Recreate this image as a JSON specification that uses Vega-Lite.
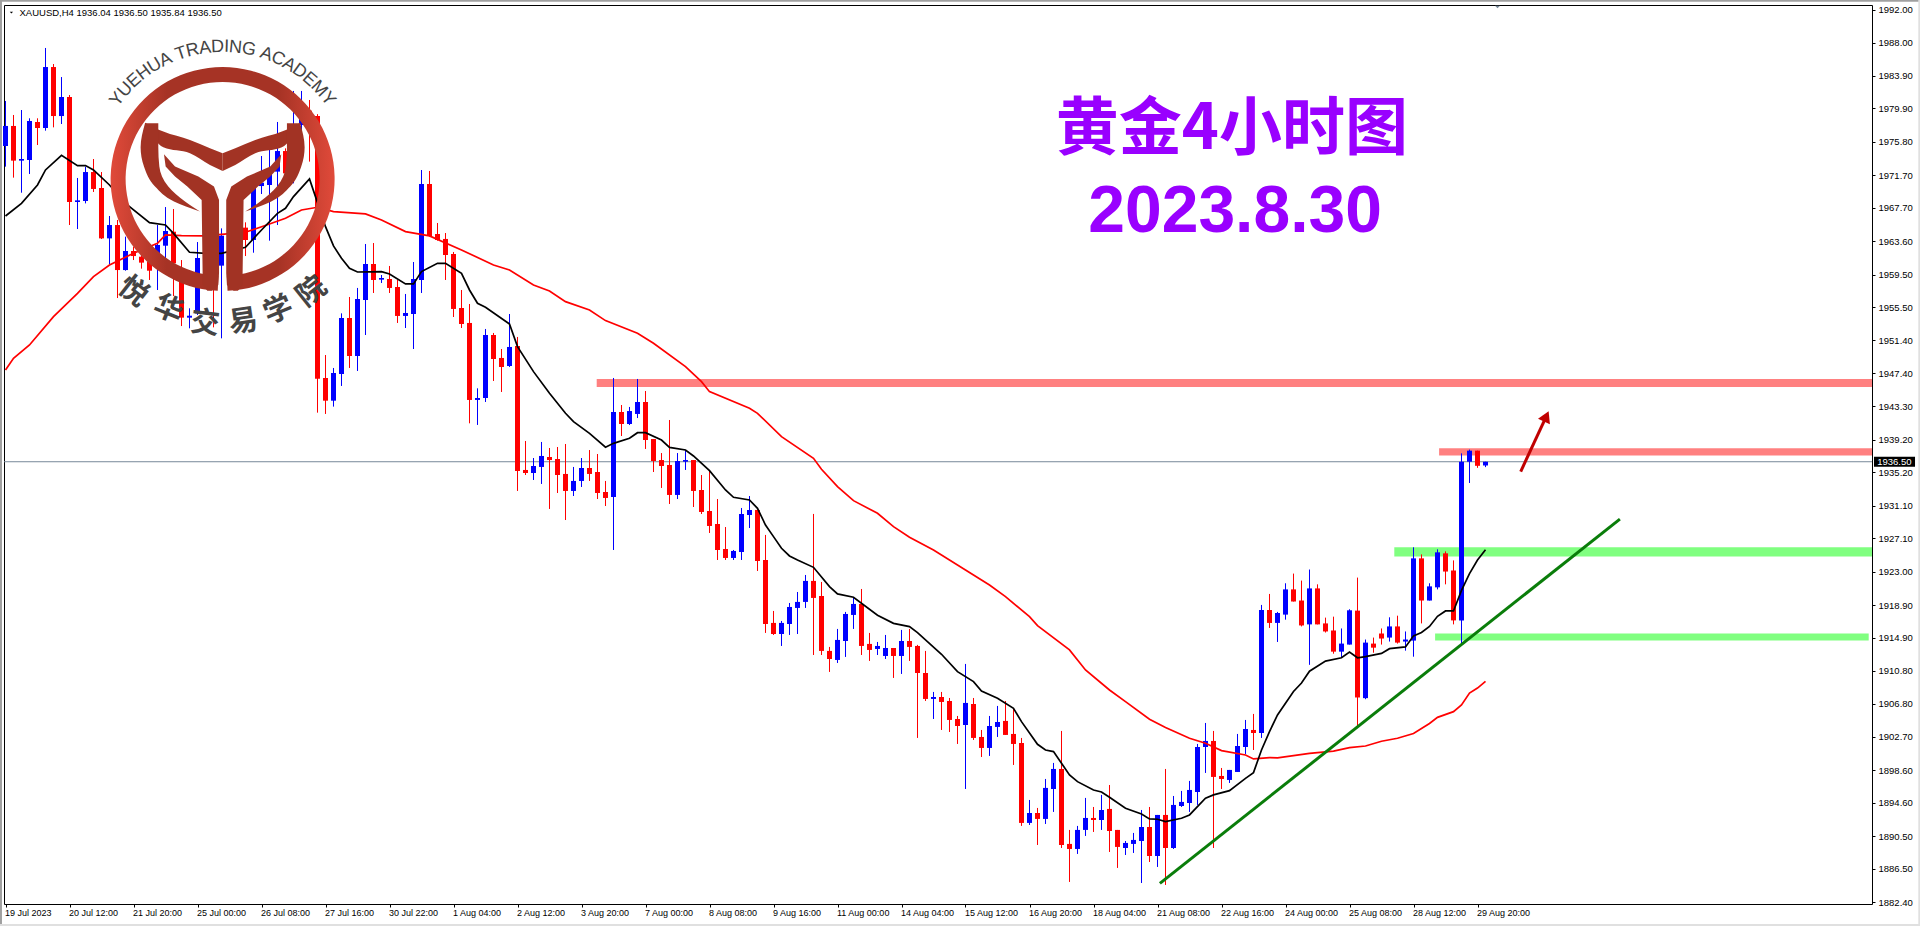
{
"$schema":"https://vega.github.io/schema/vega-lite/v6.json",
"width":1868,"height":899,"autosize":"none",
"padding":{"left":4,"top":5,"right":48,"bottom":23},
"background":"#ffffff",
"config":{"view":{"stroke":"#000000","strokeWidth":1},"axis":{"labelOverlap":false,"labelSeparation":0}},
"datasets":{
"candles":[
{"bar":0,"open":1975.29,"high":1980.82,"low":1972.75,"close":1977.75},
{"bar":1,"open":1977.75,"high":1979.10,"low":1971.40,"close":1973.49},
{"bar":2,"open":1973.49,"high":1979.71,"low":1969.55,"close":1973.69},
{"bar":3,"open":1973.57,"high":1978.69,"low":1971.85,"close":1978.36},
{"bar":4,"open":1978.24,"high":1978.69,"low":1975.41,"close":1977.50},
{"bar":5,"open":1977.50,"high":1987.33,"low":1977.17,"close":1984.99},
{"bar":6,"open":1984.99,"high":1985.36,"low":1977.58,"close":1978.97},
{"bar":7,"open":1978.97,"high":1983.76,"low":1977.99,"close":1981.31},
{"bar":8,"open":1981.31,"high":1981.55,"low":1965.58,"close":1968.41},
{"bar":9,"open":1968.41,"high":1971.36,"low":1965.09,"close":1968.61},
{"bar":10,"open":1968.53,"high":1972.75,"low":1968.24,"close":1972.09},
{"bar":11,"open":1972.09,"high":1973.69,"low":1969.64,"close":1970.01},
{"bar":12,"open":1970.13,"high":1972.09,"low":1963.86,"close":1963.94},
{"bar":13,"open":1963.94,"high":1966.69,"low":1960.79,"close":1965.58},
{"bar":14,"open":1965.58,"high":1966.20,"low":1956.61,"close":1960.05},
{"bar":15,"open":1960.05,"high":1964.15,"low":1959.97,"close":1962.39},
{"bar":16,"open":1962.39,"high":1962.92,"low":1961.28,"close":1961.77},
{"bar":17,"open":1961.69,"high":1962.92,"low":1960.22,"close":1960.96},
{"bar":18,"open":1961.08,"high":1961.90,"low":1958.83,"close":1959.97},
{"bar":19,"open":1961.08,"high":1965.58,"low":1957.60,"close":1963.13},
{"bar":20,"open":1963.04,"high":1967.79,"low":1959.85,"close":1964.85},
{"bar":21,"open":1964.76,"high":1967.55,"low":1956.86,"close":1960.87},
{"bar":22,"open":1960.05,"high":1961.28,"low":1953.17,"close":1954.20},
{"bar":23,"open":1954.20,"high":1955.35,"low":1952.89,"close":1954.44},
{"bar":24,"open":1954.73,"high":1963.49,"low":1954.53,"close":1961.53},
{"bar":25,"open":1961.53,"high":1962.51,"low":1960.87,"close":1962.10},
{"bar":26,"open":1962.10,"high":1963.74,"low":1953.01,"close":1960.59},
{"bar":27,"open":1960.59,"high":1965.17,"low":1951.66,"close":1964.27},
{"bar":28,"open":1964.27,"high":1965.00,"low":1962.50,"close":1963.00},
{"bar":29,"open":1963.00,"high":1965.80,"low":1962.80,"close":1965.26},
{"bar":30,"open":1965.26,"high":1965.91,"low":1961.77,"close":1963.74},
{"bar":31,"open":1963.74,"high":1971.00,"low":1962.18,"close":1970.50},
{"bar":32,"open":1970.37,"high":1974.06,"low":1969.39,"close":1970.78},
{"bar":33,"open":1970.50,"high":1974.88,"low":1963.66,"close":1972.14},
{"bar":34,"open":1972.14,"high":1978.24,"low":1965.58,"close":1974.67},
{"bar":35,"open":1974.67,"high":1975.00,"low":1971.73,"close":1971.93},
{"bar":36,"open":1974.68,"high":1982.05,"low":1970.70,"close":1977.87},
{"bar":37,"open":1977.87,"high":1982.05,"low":1976.85,"close":1979.63},
{"bar":38,"open":1979.63,"high":1980.94,"low":1973.37,"close":1978.98},
{"bar":39,"open":1978.98,"high":1979.20,"low":1942.53,"close":1946.71},
{"bar":40,"open":1946.79,"high":1949.61,"low":1942.37,"close":1944.00},
{"bar":41,"open":1944.00,"high":1948.02,"low":1943.27,"close":1947.40},
{"bar":42,"open":1947.28,"high":1954.73,"low":1945.81,"close":1954.16},
{"bar":43,"open":1954.16,"high":1956.74,"low":1948.02,"close":1949.49},
{"bar":44,"open":1949.49,"high":1957.85,"low":1947.65,"close":1956.49},
{"bar":45,"open":1956.37,"high":1963.25,"low":1952.07,"close":1960.79},
{"bar":46,"open":1960.79,"high":1963.37,"low":1957.23,"close":1958.83},
{"bar":47,"open":1958.87,"high":1959.44,"low":1958.46,"close":1959.07},
{"bar":48,"open":1958.95,"high":1960.55,"low":1957.23,"close":1957.85},
{"bar":49,"open":1957.97,"high":1958.83,"low":1953.55,"close":1954.41},
{"bar":50,"open":1954.41,"high":1957.11,"low":1952.93,"close":1954.77},
{"bar":51,"open":1954.65,"high":1961.04,"low":1950.35,"close":1958.95},
{"bar":52,"open":1958.83,"high":1972.34,"low":1957.23,"close":1970.62},
{"bar":53,"open":1970.62,"high":1972.22,"low":1964.15,"close":1964.23},
{"bar":54,"open":1964.48,"high":1965.83,"low":1963.66,"close":1963.74},
{"bar":55,"open":1963.87,"high":1964.60,"low":1958.83,"close":1961.90},
{"bar":56,"open":1962.02,"high":1962.27,"low":1954.28,"close":1955.27},
{"bar":57,"open":1955.39,"high":1957.60,"low":1952.93,"close":1953.42},
{"bar":58,"open":1953.55,"high":1955.88,"low":1941.22,"close":1944.09},
{"bar":59,"open":1944.09,"high":1945.52,"low":1941.02,"close":1944.33},
{"bar":60,"open":1944.33,"high":1952.81,"low":1943.84,"close":1952.07},
{"bar":61,"open":1952.07,"high":1952.32,"low":1946.42,"close":1949.12},
{"bar":62,"open":1949.25,"high":1950.35,"low":1945.07,"close":1948.14},
{"bar":63,"open":1948.26,"high":1954.65,"low":1948.14,"close":1950.60},
{"bar":64,"open":1950.72,"high":1951.83,"low":1932.91,"close":1935.36},
{"bar":65,"open":1935.49,"high":1939.05,"low":1934.87,"close":1935.12},
{"bar":66,"open":1935.12,"high":1936.96,"low":1934.26,"close":1935.98},
{"bar":67,"open":1935.86,"high":1938.93,"low":1933.77,"close":1937.21},
{"bar":68,"open":1937.08,"high":1938.19,"low":1930.70,"close":1936.71},
{"bar":69,"open":1936.84,"high":1938.31,"low":1932.66,"close":1934.87},
{"bar":70,"open":1935.00,"high":1938.68,"low":1929.34,"close":1932.91},
{"bar":71,"open":1932.91,"high":1935.86,"low":1932.29,"close":1934.14},
{"bar":72,"open":1934.14,"high":1936.96,"low":1933.40,"close":1935.73},
{"bar":73,"open":1935.73,"high":1937.94,"low":1934.14,"close":1935.00},
{"bar":74,"open":1935.24,"high":1937.45,"low":1931.92,"close":1932.66},
{"bar":75,"open":1932.78,"high":1934.14,"low":1931.06,"close":1932.05},
{"bar":76,"open":1932.17,"high":1946.79,"low":1925.66,"close":1942.61},
{"bar":77,"open":1942.61,"high":1943.47,"low":1939.66,"close":1941.14},
{"bar":78,"open":1941.14,"high":1943.23,"low":1941.01,"close":1942.73},
{"bar":79,"open":1942.37,"high":1946.67,"low":1941.87,"close":1943.84},
{"bar":80,"open":1943.84,"high":1945.19,"low":1938.07,"close":1939.17},
{"bar":81,"open":1939.29,"high":1939.29,"low":1935.24,"close":1936.59},
{"bar":82,"open":1936.71,"high":1937.57,"low":1933.28,"close":1935.98},
{"bar":83,"open":1936.10,"high":1941.63,"low":1931.31,"close":1932.42},
{"bar":84,"open":1932.42,"high":1937.57,"low":1931.92,"close":1936.59},
{"bar":85,"open":1936.51,"high":1937.82,"low":1935.49,"close":1936.71},
{"bar":86,"open":1936.71,"high":1936.71,"low":1930.94,"close":1932.91},
{"bar":87,"open":1933.03,"high":1934.87,"low":1930.08,"close":1930.33},
{"bar":88,"open":1930.45,"high":1935.36,"low":1927.75,"close":1928.61},
{"bar":89,"open":1928.85,"high":1931.92,"low":1924.43,"close":1925.66},
{"bar":90,"open":1925.78,"high":1928.48,"low":1924.43,"close":1924.68},
{"bar":91,"open":1924.68,"high":1925.66,"low":1924.43,"close":1925.54},
{"bar":92,"open":1925.41,"high":1930.82,"low":1924.43,"close":1930.08},
{"bar":93,"open":1929.96,"high":1932.29,"low":1928.36,"close":1930.57},
{"bar":94,"open":1930.58,"high":1930.58,"low":1923.08,"close":1924.31},
{"bar":95,"open":1924.43,"high":1927.51,"low":1915.47,"close":1916.57},
{"bar":96,"open":1916.70,"high":1918.17,"low":1915.22,"close":1915.34},
{"bar":97,"open":1915.34,"high":1916.94,"low":1913.87,"close":1916.70},
{"bar":98,"open":1916.57,"high":1919.15,"low":1915.22,"close":1918.66},
{"bar":99,"open":1918.54,"high":1920.50,"low":1915.34,"close":1919.28},
{"bar":100,"open":1919.28,"high":1922.59,"low":1918.54,"close":1921.86},
{"bar":101,"open":1921.86,"high":1930.09,"low":1912.76,"close":1919.77},
{"bar":102,"open":1920.01,"high":1921.73,"low":1912.76,"close":1913.26},
{"bar":103,"open":1913.26,"high":1913.75,"low":1910.68,"close":1912.27},
{"bar":104,"open":1912.15,"high":1915.96,"low":1911.78,"close":1914.61},
{"bar":105,"open":1914.48,"high":1918.05,"low":1912.52,"close":1917.80},
{"bar":106,"open":1917.68,"high":1919.77,"low":1915.96,"close":1919.03},
{"bar":107,"open":1919.03,"high":1920.87,"low":1912.76,"close":1913.87},
{"bar":108,"open":1914.12,"high":1915.47,"low":1912.03,"close":1913.38},
{"bar":109,"open":1913.50,"high":1914.36,"low":1912.76,"close":1913.87},
{"bar":110,"open":1912.64,"high":1915.22,"low":1912.27,"close":1913.62},
{"bar":111,"open":1913.62,"high":1913.62,"low":1909.94,"close":1912.64},
{"bar":112,"open":1912.64,"high":1915.84,"low":1910.43,"close":1914.48},
{"bar":113,"open":1914.48,"high":1915.96,"low":1912.03,"close":1913.75},
{"bar":114,"open":1913.87,"high":1914.00,"low":1902.57,"close":1910.55},
{"bar":115,"open":1910.55,"high":1913.26,"low":1907.11,"close":1907.36},
{"bar":116,"open":1907.36,"high":1908.22,"low":1904.90,"close":1907.60},
{"bar":117,"open":1907.60,"high":1908.22,"low":1903.55,"close":1906.99},
{"bar":118,"open":1907.11,"high":1907.48,"low":1903.30,"close":1904.78},
{"bar":119,"open":1904.90,"high":1905.27,"low":1901.83,"close":1904.04},
{"bar":120,"open":1904.16,"high":1911.66,"low":1896.30,"close":1906.87},
{"bar":121,"open":1906.74,"high":1907.48,"low":1902.32,"close":1902.57},
{"bar":122,"open":1902.69,"high":1903.55,"low":1900.23,"close":1901.34},
{"bar":123,"open":1901.34,"high":1905.27,"low":1900.36,"close":1904.04},
{"bar":124,"open":1903.92,"high":1906.50,"low":1902.69,"close":1904.53},
{"bar":125,"open":1904.66,"high":1907.11,"low":1902.94,"close":1902.94},
{"bar":126,"open":1903.06,"high":1906.25,"low":1899.25,"close":1901.83},
{"bar":127,"open":1901.95,"high":1902.57,"low":1891.76,"close":1892.13},
{"bar":128,"open":1892.13,"high":1894.95,"low":1891.88,"close":1893.35},
{"bar":129,"open":1893.35,"high":1893.97,"low":1889.42,"close":1892.62},
{"bar":130,"open":1892.62,"high":1897.53,"low":1892.00,"close":1896.43},
{"bar":131,"open":1896.30,"high":1899.50,"low":1893.48,"close":1898.76},
{"bar":132,"open":1898.76,"high":1903.43,"low":1889.05,"close":1889.42},
{"bar":133,"open":1889.55,"high":1891.27,"low":1884.88,"close":1888.93},
{"bar":134,"open":1888.93,"high":1891.76,"low":1888.32,"close":1891.27},
{"bar":135,"open":1891.27,"high":1895.20,"low":1890.53,"close":1892.74},
{"bar":136,"open":1892.74,"high":1894.09,"low":1891.02,"close":1892.49},
{"bar":137,"open":1892.49,"high":1895.57,"low":1891.27,"close":1893.72},
{"bar":138,"open":1893.85,"high":1896.79,"low":1888.56,"close":1891.14},
{"bar":139,"open":1891.27,"high":1891.27,"low":1886.60,"close":1889.18},
{"bar":140,"open":1889.05,"high":1889.91,"low":1888.19,"close":1889.67},
{"bar":141,"open":1889.55,"high":1890.90,"low":1888.44,"close":1890.04},
{"bar":142,"open":1889.91,"high":1893.72,"low":1884.75,"close":1891.63},
{"bar":143,"open":1891.63,"high":1894.09,"low":1887.33,"close":1888.07},
{"bar":144,"open":1888.07,"high":1893.11,"low":1886.72,"close":1893.11},
{"bar":145,"open":1893.11,"high":1898.76,"low":1884.51,"close":1889.05},
{"bar":146,"open":1889.05,"high":1895.44,"low":1888.93,"close":1894.34},
{"bar":147,"open":1894.21,"high":1896.06,"low":1894.09,"close":1894.71},
{"bar":148,"open":1894.58,"high":1897.29,"low":1893.48,"close":1896.18},
{"bar":149,"open":1895.93,"high":1901.83,"low":1894.34,"close":1901.46},
{"bar":150,"open":1901.46,"high":1904.41,"low":1898.27,"close":1902.20},
{"bar":151,"open":1902.20,"high":1903.43,"low":1889.05,"close":1897.78},
{"bar":152,"open":1897.90,"high":1898.88,"low":1896.30,"close":1897.53},
{"bar":153,"open":1897.41,"high":1898.64,"low":1897.04,"close":1898.64},
{"bar":154,"open":1898.39,"high":1903.06,"low":1898.39,"close":1901.58},
{"bar":155,"open":1901.46,"high":1904.78,"low":1900.60,"close":1903.67},
{"bar":156,"open":1903.55,"high":1905.52,"low":1901.09,"close":1903.18},
{"bar":157,"open":1903.18,"high":1918.91,"low":1902.57,"close":1918.29},
{"bar":158,"open":1918.29,"high":1920.26,"low":1916.08,"close":1916.70},
{"bar":159,"open":1916.70,"high":1918.05,"low":1914.36,"close":1917.92},
{"bar":160,"open":1917.72,"high":1921.57,"low":1917.10,"close":1920.82},
{"bar":161,"open":1920.82,"high":1922.76,"low":1919.33,"close":1919.33},
{"bar":162,"open":1919.45,"high":1921.90,"low":1916.27,"close":1916.39},
{"bar":163,"open":1916.52,"high":1923.26,"low":1911.55,"close":1920.94},
{"bar":164,"open":1920.94,"high":1921.44,"low":1916.52,"close":1916.52},
{"bar":165,"open":1916.64,"high":1917.35,"low":1915.52,"close":1915.65},
{"bar":166,"open":1915.77,"high":1917.47,"low":1912.92,"close":1913.17},
{"bar":167,"open":1913.17,"high":1916.02,"low":1912.42,"close":1914.16},
{"bar":168,"open":1914.04,"high":1918.38,"low":1914.04,"close":1918.25},
{"bar":169,"open":1918.21,"high":1922.27,"low":1903.94,"close":1907.54},
{"bar":170,"open":1907.46,"high":1914.66,"low":1907.33,"close":1914.28},
{"bar":171,"open":1914.16,"high":1914.90,"low":1913.04,"close":1913.66},
{"bar":172,"open":1915.40,"high":1916.02,"low":1914.04,"close":1914.78},
{"bar":173,"open":1914.90,"high":1917.39,"low":1914.41,"close":1916.27},
{"bar":174,"open":1916.27,"high":1917.59,"low":1914.16,"close":1914.28},
{"bar":175,"open":1914.41,"high":1915.65,"low":1913.29,"close":1914.66},
{"bar":176,"open":1914.53,"high":1925.99,"low":1912.55,"close":1924.63},
{"bar":177,"open":1924.63,"high":1925.12,"low":1916.64,"close":1919.45},
{"bar":178,"open":1919.45,"high":1921.57,"low":1919.45,"close":1921.19},
{"bar":179,"open":1921.07,"high":1925.74,"low":1920.82,"close":1925.37},
{"bar":180,"open":1925.25,"high":1925.49,"low":1921.44,"close":1923.01},
{"bar":181,"open":1923.14,"high":1924.38,"low":1916.52,"close":1917.01},
{"bar":182,"open":1917.01,"high":1937.53,"low":1914.16,"close":1936.50},
{"bar":183,"open":1936.50,"high":1937.99,"low":1933.89,"close":1937.86},
{"bar":184,"open":1937.86,"high":1937.86,"low":1935.75,"close":1936.00},
{"bar":185,"open":1936.04,"high":1936.50,"low":1935.84,"close":1936.50}
],
"ma_fast":[
{"bar":0,"price":1966.69},{"bar":2,"price":1968.25},{"bar":4,"price":1970.50},{"bar":5,"price":1972.35},{"bar":7,"price":1974.15},{"bar":9,"price":1972.88},{"bar":10,"price":1972.88},{"bar":11,"price":1972.35},{"bar":13,"price":1970.50},{"bar":15,"price":1968.25},{"bar":18,"price":1965.88},{"bar":20,"price":1965.59},{"bar":21,"price":1964.56},{"bar":23,"price":1962.23},{"bar":25,"price":1962.11},{"bar":27,"price":1962.11},{"bar":30,"price":1962.85},{"bar":32,"price":1964.97},{"bar":34,"price":1967.02},{"bar":35,"price":1967.64},{"bar":36,"price":1969.07},{"bar":38,"price":1971.24},{"bar":39,"price":1968.33},{"bar":40,"price":1965.38},{"bar":41,"price":1963.01},{"bar":42,"price":1961.49},{"bar":43,"price":1960.27},{"bar":44,"price":1959.81},{"bar":47,"price":1959.86},{"bar":48,"price":1959.57},{"bar":50,"price":1958.34},{"bar":51,"price":1958.34},{"bar":52,"price":1959.86},{"bar":54,"price":1960.88},{"bar":55,"price":1960.88},{"bar":57,"price":1959.65},{"bar":58,"price":1957.60},{"bar":59,"price":1955.97},{"bar":60,"price":1955.47},{"bar":63,"price":1953.43},{"bar":64,"price":1950.64},{"bar":66,"price":1947.57},{"bar":68,"price":1944.91},{"bar":70,"price":1942.45},{"bar":71,"price":1941.43},{"bar":73,"price":1939.99},{"bar":75,"price":1938.28},{"bar":76,"price":1938.76},{"bar":78,"price":1939.38},{"bar":79,"price":1940.07},{"bar":80,"price":1940.07},{"bar":82,"price":1939.17},{"bar":83,"price":1938.27},{"bar":85,"price":1937.94},{"bar":86,"price":1937.21},{"bar":88,"price":1935.40},{"bar":90,"price":1933.03},{"bar":91,"price":1932.13},{"bar":93,"price":1931.80},{"bar":94,"price":1930.78},{"bar":95,"price":1928.73},{"bar":96,"price":1927.30},{"bar":97,"price":1925.87},{"bar":98,"price":1924.93},{"bar":99,"price":1924.43},{"bar":101,"price":1923.53},{"bar":103,"price":1921.16},{"bar":104,"price":1920.26},{"bar":106,"price":1919.85},{"bar":109,"price":1917.64},{"bar":111,"price":1916.65},{"bar":113,"price":1916.24},{"bar":114,"price":1915.51},{"bar":117,"price":1912.85},{"bar":119,"price":1910.72},{"bar":121,"price":1909.49},{"bar":122,"price":1908.34},{"bar":124,"price":1907.44},{"bar":126,"price":1906.21},{"bar":127,"price":1904.57},{"bar":129,"price":1901.79},{"bar":130,"price":1901.09},{"bar":131,"price":1900.89},{"bar":132,"price":1899.46},{"bar":133,"price":1898.02},{"bar":134,"price":1897.20},{"bar":136,"price":1896.18},{"bar":137,"price":1895.93},{"bar":138,"price":1895.28},{"bar":140,"price":1893.93},{"bar":142,"price":1893.23},{"bar":143,"price":1892.62},{"bar":144,"price":1892.58},{"bar":145,"price":1892.29},{"bar":147,"price":1892.70},{"bar":148,"price":1893.11},{"bar":150,"price":1895.16},{"bar":151,"price":1895.57},{"bar":153,"price":1896.10},{"bar":155,"price":1897.61},{"bar":156,"price":1898.31},{"bar":157,"price":1901.09},{"bar":158,"price":1903.35},{"bar":159,"price":1905.39},{"bar":161,"price":1908.28},{"bar":162,"price":1909.32},{"bar":163,"price":1910.77},{"bar":165,"price":1912.01},{"bar":167,"price":1912.42},{"bar":168,"price":1913.12},{"bar":169,"price":1912.42},{"bar":170,"price":1912.55},{"bar":172,"price":1912.96},{"bar":173,"price":1913.54},{"bar":175,"price":1913.75},{"bar":176,"price":1915.11},{"bar":177,"price":1915.52},{"bar":178,"price":1916.27},{"bar":179,"price":1917.51},{"bar":180,"price":1918.17},{"bar":181,"price":1918.17},{"bar":182,"price":1920.70},{"bar":183,"price":1922.76},{"bar":184,"price":1924.42},{"bar":185,"price":1925.70}
],
"ma_slow":[
{"bar":0,"price":1947.78},{"bar":1,"price":1949.21},{"bar":3,"price":1950.85},{"bar":6,"price":1954.33},{"bar":9,"price":1957.19},{"bar":11,"price":1959.24},{"bar":13,"price":1960.67},{"bar":16,"price":1962.11},{"bar":19,"price":1963.34},{"bar":20,"price":1964.36},{"bar":22,"price":1964.28},{"bar":25,"price":1964.24},{"bar":27,"price":1964.44},{"bar":30,"price":1964.69},{"bar":33,"price":1965.71},{"bar":35,"price":1966.41},{"bar":37,"price":1967.43},{"bar":39,"price":1967.76},{"bar":41,"price":1967.23},{"bar":45,"price":1966.94},{"bar":47,"price":1966.20},{"bar":50,"price":1964.77},{"bar":53,"price":1964.24},{"bar":57,"price":1962.52},{"bar":61,"price":1960.67},{"bar":63,"price":1960.06},{"bar":66,"price":1958.22},{"bar":68,"price":1957.48},{"bar":70,"price":1956.17},{"bar":73,"price":1955.15},{"bar":75,"price":1953.84},{"bar":79,"price":1952.28},{"bar":81,"price":1951.05},{"bar":85,"price":1948.18},{"bar":87,"price":1946.34},{"bar":88,"price":1945.11},{"bar":93,"price":1943.07},{"bar":94,"price":1942.45},{"bar":97,"price":1939.59},{"bar":101,"price":1936.92},{"bar":102,"price":1935.57},{"bar":104,"price":1933.44},{"bar":106,"price":1931.72},{"bar":109,"price":1930.17},{"bar":111,"price":1928.53},{"bar":113,"price":1927.22},{"bar":116,"price":1925.66},{"bar":120,"price":1923.21},{"bar":123,"price":1921.36},{"bar":125,"price":1919.93},{"bar":128,"price":1917.47},{"bar":129,"price":1916.37},{"bar":133,"price":1913.38},{"bar":135,"price":1910.92},{"bar":138,"price":1908.46},{"bar":140,"price":1907.03},{"bar":143,"price":1904.86},{"bar":145,"price":1903.84},{"bar":148,"price":1902.53},{"bar":150,"price":1901.91},{"bar":152,"price":1901.01},{"bar":155,"price":1900.48},{"bar":156,"price":1899.99},{"bar":158,"price":1900.15},{"bar":159,"price":1900.13},{"bar":163,"price":1900.67},{"bar":166,"price":1900.96},{"bar":168,"price":1901.38},{"bar":170,"price":1901.58},{"bar":172,"price":1902.16},{"bar":174,"price":1902.53},{"bar":176,"price":1903.11},{"bar":178,"price":1904.35},{"bar":179,"price":1905.10},{"bar":181,"price":1905.80},{"bar":182,"price":1906.63},{"bar":183,"price":1908.08},{"bar":184,"price":1908.70},{"bar":185,"price":1909.53}
],
"zones_res":[
{"bar":73.9,"bar2":233.31,"price":1946.67,"price2":1945.69},
{"bar":179.2,"bar2":233.31,"price":1938.15,"price2":1937.28}
],
"zones_sup":[
{"bar":173.6,"bar2":233.31,"price":1925.99,"price2":1924.87},
{"bar":178.7,"bar2":232.9,"price":1915.4,"price2":1914.53}
],
"trend":[{"bar":144.3,"price":1884.7},{"bar":201.8,"price":1929.46}],
"arrow":[{"bar":189.4,"price":1935.3},{"bar":192.6,"price":1942.08}],
"arrow_head":[{"bar":192.6,"price":1942.08}],
"last_price":[{"bar":-0.1875,"bar2":233.31,"price":1936.5}],
"last_box":[{"bar":233.56,"bar2":238.69,"price":1937.1,"price2":1935.9}],
"last_label":[{"bar":236.1,"price":1936.5,"label":"1936.50"}],
"marker_top":[{"bar":186.5,"price":1992.37}],
"marker_hdr":[{"bar":0.74,"price":1991.67}],
"header":[{"bar":1.75,"price":1991.67,"label":"XAUUSD,H4  1936.04 1936.50 1935.84 1936.50"}],
"heading":[{"bar":153.3,"price":1977.2,"label":"黄金4小时图"}],
"date":[{"bar":153.7,"price":1967.13,"label":"2023.8.30"}],
"logo_ring":[{"bar":27.14,"price":1971.24}],
"wing_l":[{"bar":17.44,"top":1978.16,"bot":1977.87},{"bar":19.73,"top":1977.06,"bot":1975.13},{"bar":23.06,"top":1976.03,"bot":1974.39},{"bar":25.56,"top":1975.01,"bot":1972.96},{"bar":27.14,"top":1974.39,"bot":1972.22}],
"wing_r":[{"bar":27.14,"top":1974.39,"bot":1972.22},{"bar":28.72,"top":1975.01,"bot":1972.96},{"bar":31.22,"top":1976.03,"bot":1974.39},{"bar":34.55,"top":1977.06,"bot":1975.13},{"bar":36.84,"top":1978.16,"bot":1977.87}],
"crescent_l":[{"price":1978.08,"b1":17.44,"b2":19.10},{"price":1975.13,"b1":16.89,"b2":19.10},{"price":1972.76,"b1":17.31,"b2":19.23},{"price":1970.3,"b1":18.69,"b2":20.35},{"price":1968.46,"b1":21.06,"b2":22.44},{"price":1967.23,"b1":24.31,"b2":24.31}],
"crescent_r":[{"price":1978.08,"b1":35.18,"b2":36.84},{"price":1975.13,"b1":35.18,"b2":37.39},{"price":1972.76,"b1":35.05,"b2":36.97},{"price":1970.3,"b1":33.93,"b2":35.59},{"price":1968.46,"b1":31.84,"b2":33.22},{"price":1967.23,"b1":29.97,"b2":29.97}],
"stem_l":[{"price":1974.27,"b1":19.81,"b2":19.81},{"price":1972.76,"b1":20.02,"b2":21.19},{"price":1971.53,"b1":21.19,"b2":24.10},{"price":1970.3,"b1":22.73,"b2":26.06},{"price":1968.66,"b1":24.52,"b2":26.69},{"price":1959.65,"b1":24.64,"b2":26.69},{"price":1958.22,"b1":24.64,"b2":26.6},{"price":1957.52,"b1":25.23,"b2":25.77}],
"stem_r":[{"price":1974.27,"b1":34.47,"b2":34.47},{"price":1972.76,"b1":33.09,"b2":34.26},{"price":1971.53,"b1":30.18,"b2":33.09},{"price":1970.3,"b1":28.22,"b2":31.55},{"price":1968.66,"b1":27.59,"b2":29.76},{"price":1959.65,"b1":27.59,"b2":29.64},{"price":1958.22,"b1":27.68,"b2":29.64},{"price":1957.52,"b1":28.51,"b2":29.05}],
"logo_top":[
{"bar":13.97,"price":1981.02,"ch":"Y","rot":-52.9},{"bar":14.98,"price":1982.2,"ch":"U","rot":-47.45},{"bar":16.1,"price":1983.29,"ch":"E","rot":-42},{"bar":17.3,"price":1984.26,"ch":"H","rot":-36.6},{"bar":18.66,"price":1985.16,"ch":"U","rot":-30.9},{"bar":20.03,"price":1985.88,"ch":"A","rot":-25.5},{"bar":21.96,"price":1986.63,"ch":"T","rot":-18.3},{"bar":23.4,"price":1987.04,"ch":"R","rot":-13.1},{"bar":24.95,"price":1987.31,"ch":"A","rot":-7.65},{"bar":26.51,"price":1987.44,"ch":"D","rot":-2.2},{"bar":27.63,"price":1987.46,"ch":"I","rot":1.7},{"bar":28.76,"price":1987.38,"ch":"N","rot":5.6},{"bar":30.42,"price":1987.14,"ch":"G","rot":11.5},{"bar":32.6,"price":1986.55,"ch":"A","rot":19.3},{"bar":34.05,"price":1985.97,"ch":"C","rot":24.8},{"bar":35.44,"price":1985.25,"ch":"A","rot":30.2},{"bar":36.74,"price":1984.43,"ch":"D","rot":35.6},{"bar":37.98,"price":1983.47,"ch":"E","rot":41.1},{"bar":39.2,"price":1982.3,"ch":"M","rot":47},{"bar":40.29,"price":1981.05,"ch":"Y","rot":52.8}
],
"logo_bottom":[
{"bar":15.98,"price":1957.4,"ch":"悦","rot":38},{"bar":20.35,"price":1955.23,"ch":"华","rot":22},{"bar":24.94,"price":1953.51,"ch":"交","rot":7},{"bar":29.73,"price":1953.71,"ch":"易","rot":-8.5},{"bar":34.1,"price":1955.15,"ch":"学","rot":-23},{"bar":38.27,"price":1957.4,"ch":"院","rot":-38.5}
],
"edge_dark":[
{"bar":-0.69,"bar2":-0.44,"price":1993.23,"price2":1879.6},
{"bar":-0.69,"bar2":239.31,"price":1993.23,"price2":1993.0}
],
"edge_light":[
{"bar":-0.69,"bar2":239.31,"price":1879.7,"price2":1879.47},
{"bar":239.1,"bar2":239.31,"price":1993.23,"price2":1879.6}
]
},
"encoding":{
"x":{"field":"bar","type":"quantitative","title":null,"scale":{"domain":[-0.1875,233.3125],"nice":false,"zero":false,"padding":0},
"axis":{"title":null,"grid":false,"orient":"bottom","domain":false,"values":[0,8,16,24,32,40,48,56,64,72,80,88,96,104,112,120,128,136,144,152,160,168,176,184],
"labelExpr":"['19 Jul 2023','20 Jul 12:00','21 Jul 20:00','25 Jul 00:00','26 Jul 08:00','27 Jul 16:00','30 Jul 22:00','1 Aug 04:00','2 Aug 12:00','3 Aug 20:00','7 Aug 00:00','8 Aug 08:00','9 Aug 16:00','11 Aug 00:00','14 Aug 04:00','15 Aug 12:00','16 Aug 20:00','18 Aug 04:00','21 Aug 08:00','22 Aug 16:00','24 Aug 00:00','25 Aug 08:00','28 Aug 12:00','29 Aug 20:00'][datum.value/8]",
"tickColor":"#000000","tickSize":3,"labelColor":"#000000","labelFont":"Liberation Sans","labelFontSize":9,"labelAlign":"left","labelBaseline":"top","labelPadding":1,"labelOffset":-1,"labelBound":false,"labelFlush":false,"labelOverlap":false}}
},
"layer":[
{"data":{"name":"zones_res"},"mark":{"type":"rect","fill":"#ff8080"},"encoding":{"x2":{"field":"bar2"},
"y":{"field":"price","type":"quantitative","title":null,"scale":{"domain":[1882.17,1992.61],"nice":false,"zero":false,"padding":0},
"axis":{"title":null,"grid":false,"orient":"right","domain":false,"format":".2f","tickCount":28,"values":[1882.4,1886.5,1890.5,1894.6,1898.6,1902.7,1906.8,1910.8,1914.9,1918.9,1923.0,1927.1,1931.1,1935.2,1939.2,1943.3,1947.4,1951.4,1955.5,1959.5,1963.6,1967.7,1971.7,1975.8,1979.9,1983.9,1988.0,1992.0],
"tickColor":"#000000","tickSize":3,"labelColor":"#000000","labelFont":"Liberation Sans","labelFontSize":9.5,"labelPadding":3,"labelBound":false,"labelFlush":false,"labelOverlap":false}},
"y2":{"field":"price2"}}},
{"data":{"name":"zones_sup"},"mark":{"type":"rect","fill":"#80ff80"},"encoding":{"x2":{"field":"bar2"},"y":{"field":"price","type":"quantitative","title":null},"y2":{"field":"price2"}}},
{"data":{"name":"last_price"},"mark":{"type":"rule","stroke":"#778899","strokeWidth":1},"encoding":{"x2":{"field":"bar2"},"y":{"field":"price","type":"quantitative","title":null}}},
{"data":{"name":"candles"},"mark":{"type":"rule","strokeWidth":1},"encoding":{"y":{"field":"low","type":"quantitative","title":null},"y2":{"field":"high"},"color":{"condition":{"test":"datum.close>=datum.open","value":"#0000ff"},"value":"#ff0000"}}},
{"data":{"name":"candles"},"mark":{"type":"bar","size":5},"encoding":{"y":{"field":"open","type":"quantitative","title":null},"y2":{"field":"close"},"color":{"condition":{"test":"datum.close>=datum.open","value":"#0000ff"},"value":"#ff0000"}}},
{"data":{"name":"ma_slow"},"mark":{"type":"line","stroke":"#ff0000","strokeWidth":1.7},"encoding":{"y":{"field":"price","type":"quantitative","title":null}}},
{"data":{"name":"ma_fast"},"mark":{"type":"line","stroke":"#000000","strokeWidth":1.7},"encoding":{"y":{"field":"price","type":"quantitative","title":null}}},
{"data":{"name":"trend"},"mark":{"type":"line","stroke":"#0a7d0a","strokeWidth":3},"encoding":{"y":{"field":"price","type":"quantitative","title":null}}},
{"data":{"name":"arrow"},"mark":{"type":"line","stroke":"#c00000","strokeWidth":3},"encoding":{"y":{"field":"price","type":"quantitative","title":null}}},
{"data":{"name":"arrow_head"},"mark":{"type":"point","shape":"triangle-up","filled":true,"fill":"#c00000","size":170,"angle":24.5,"opacity":1},"encoding":{"y":{"field":"price","type":"quantitative","title":null}}},
{"data":{"name":"logo_ring"},"mark":{"type":"arc","radius":112,"radius2":97,"theta":3.185,"theta2":9.381,"fill":{"gradient":"linear","x1":0,"x2":1,"y1":0,"y2":0,"stops":[{"offset":0,"color":"#e04a3a"},{"offset":0.25,"color":"#a63325"},{"offset":0.75,"color":"#a63325"},{"offset":1,"color":"#e04a3a"}]}},"encoding":{"y":{"field":"price","type":"quantitative","title":null}}},
{"data":{"name":"wing_l"},"mark":{"type":"area","fill":"#a23324","interpolate":"monotone"},"encoding":{"y":{"field":"top","type":"quantitative","title":null},"y2":{"field":"bot"}}},
{"data":{"name":"wing_r"},"mark":{"type":"area","fill":"#a23324","interpolate":"monotone"},"encoding":{"y":{"field":"top","type":"quantitative","title":null},"y2":{"field":"bot"}}},
{"data":{"name":"crescent_l"},"mark":{"type":"area","orient":"horizontal","fill":"#a23324","interpolate":"monotone"},"encoding":{"y":{"field":"price","type":"quantitative","title":null},"x":{"field":"b1","type":"quantitative","title":null},"x2":{"field":"b2"}}},
{"data":{"name":"crescent_r"},"mark":{"type":"area","orient":"horizontal","fill":"#a23324","interpolate":"monotone"},"encoding":{"y":{"field":"price","type":"quantitative","title":null},"x":{"field":"b1","type":"quantitative","title":null},"x2":{"field":"b2"}}},
{"data":{"name":"stem_l"},"mark":{"type":"area","orient":"horizontal","fill":"#a23324"},"encoding":{"y":{"field":"price","type":"quantitative","title":null},"x":{"field":"b1","type":"quantitative","title":null},"x2":{"field":"b2"}}},
{"data":{"name":"stem_r"},"mark":{"type":"area","orient":"horizontal","fill":"#a23324"},"encoding":{"y":{"field":"price","type":"quantitative","title":null},"x":{"field":"b1","type":"quantitative","title":null},"x2":{"field":"b2"}}},
{"data":{"name":"logo_top"},"mark":{"type":"text","font":"Liberation Sans","fontSize":18,"fill":"#444444","align":"center","baseline":"middle"},"encoding":{"y":{"field":"price","type":"quantitative","title":null},"text":{"field":"ch"},"angle":{"field":"rot","type":"quantitative","scale":null}}},
{"data":{"name":"logo_bottom"},"mark":{"type":"text","font":"Noto Sans CJK SC","fontWeight":"bold","fontSize":29,"fill":"#444444","align":"center","baseline":"middle"},"encoding":{"y":{"field":"price","type":"quantitative","title":null},"text":{"field":"ch"},"angle":{"field":"rot","type":"quantitative","scale":null}}},
{"data":{"name":"heading"},"mark":{"type":"text","font":"Noto Sans CJK SC","fontWeight":"bold","fontSize":63,"fill":"#9900ff","align":"center","baseline":"middle"},"encoding":{"y":{"field":"price","type":"quantitative","title":null},"text":{"field":"label"}}},
{"data":{"name":"date"},"mark":{"type":"text","font":"Liberation Sans","fontWeight":"bold","fontSize":66,"fill":"#9900ff","align":"center","baseline":"middle"},"encoding":{"y":{"field":"price","type":"quantitative","title":null},"text":{"field":"label"}}},
{"data":{"name":"header"},"mark":{"type":"text","font":"Liberation Sans","fontSize":9.5,"fill":"#000000","align":"left","baseline":"middle"},"encoding":{"y":{"field":"price","type":"quantitative","title":null},"text":{"field":"label"}}},
{"data":{"name":"marker_hdr"},"mark":{"type":"point","shape":"M-1,-0.5L1,-0.5L0,0.5Z","filled":true,"fill":"#000000","size":11,"opacity":1},"encoding":{"y":{"field":"price","type":"quantitative","title":null}}},
{"data":{"name":"marker_top"},"mark":{"type":"point","shape":"M-1,-0.5L1,-0.5L0,0.5Z","filled":true,"fill":"#778899","size":25,"opacity":1},"encoding":{"y":{"field":"price","type":"quantitative","title":null}}},
{"data":{"name":"last_box"},"mark":{"type":"rect","fill":"#000000"},"encoding":{"x2":{"field":"bar2"},"y":{"field":"price","type":"quantitative","title":null},"y2":{"field":"price2"}}},
{"data":{"name":"last_label"},"mark":{"type":"text","font":"Liberation Sans","fontSize":9.5,"fill":"#ffffff","align":"center","baseline":"middle"},"encoding":{"y":{"field":"price","type":"quantitative","title":null},"text":{"field":"label"}}},
{"data":{"name":"edge_dark"},"mark":{"type":"rect","fill":"#a0a0a0"},"encoding":{"x2":{"field":"bar2"},"y":{"field":"price","type":"quantitative","title":null},"y2":{"field":"price2"}}},
{"data":{"name":"edge_light"},"mark":{"type":"rect","fill":"#e0e0e0"},"encoding":{"x2":{"field":"bar2"},"y":{"field":"price","type":"quantitative","title":null},"y2":{"field":"price2"}}}
]
}
